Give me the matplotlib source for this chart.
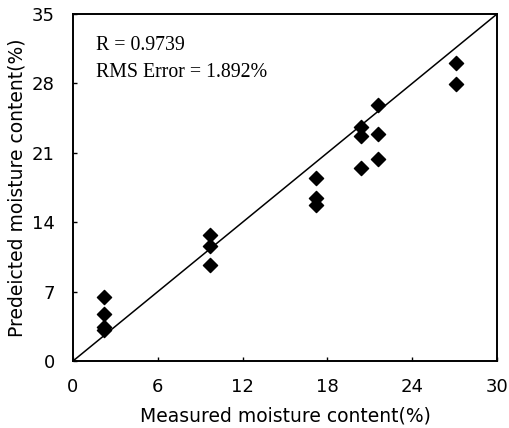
import matplotlib
matplotlib.use("Agg")
import matplotlib.pyplot as plt

measured = [2.2, 2.2, 2.2, 2.2, 9.7, 9.7, 9.7, 17.2, 17.2, 17.2,
            20.4, 20.4, 20.4, 21.6, 21.6, 21.6, 27.1, 27.1]
predicted = [6.5, 4.7, 3.4, 3.1, 12.7, 11.6, 9.7, 18.5, 16.4, 15.7,
             23.6, 22.7, 19.5, 25.8, 22.9, 20.4, 30.1, 27.9]
xticks = [0, 6, 12, 18, 24, 30]
yticks = [0, 7, 14, 21, 28, 35]
annot = ["R = 0.9739", "RMS Error = 1.892%"]

plt.rcParams['font.family'] = ['DejaVu Sans']
fig = plt.figure(figsize=(5.10, 4.28), dpi=100)
ax = fig.add_axes([73/510, 67/428, 424/510, 347/428])
ax.set_xlim(xticks[0], xticks[-1])
ax.set_ylim(yticks[0], yticks[-1])
ax.plot([0, 1], [0, 1], transform=ax.transAxes, color='black', lw=1.1)
ax.scatter(measured, predicted, marker='D', s=52, color='black', zorder=3)
ax.set_xticks(xticks)
ax.set_yticks(yticks)
ax.tick_params(direction='in', length=3, width=1.0, labelsize=13)
ax.tick_params(axis='x', pad=12)
ax.tick_params(axis='y', pad=13)
for s in ax.spines.values():
    s.set_linewidth(1.4)
ax.set_xlabel("Measured moisture content(%)", fontsize=13.5, labelpad=8)
ax.set_ylabel("Predeicted moisture content(%)", fontsize=13.5, labelpad=4)
ax.text(0.055, 0.937, annot[0] + "\n" + annot[1], transform=ax.transAxes,
        ha='left', va='top', fontsize=14.3, family=['Liberation Serif', 'DejaVu Serif'],
        linespacing=1.6)
fig.savefig("out.png", dpi=100)
